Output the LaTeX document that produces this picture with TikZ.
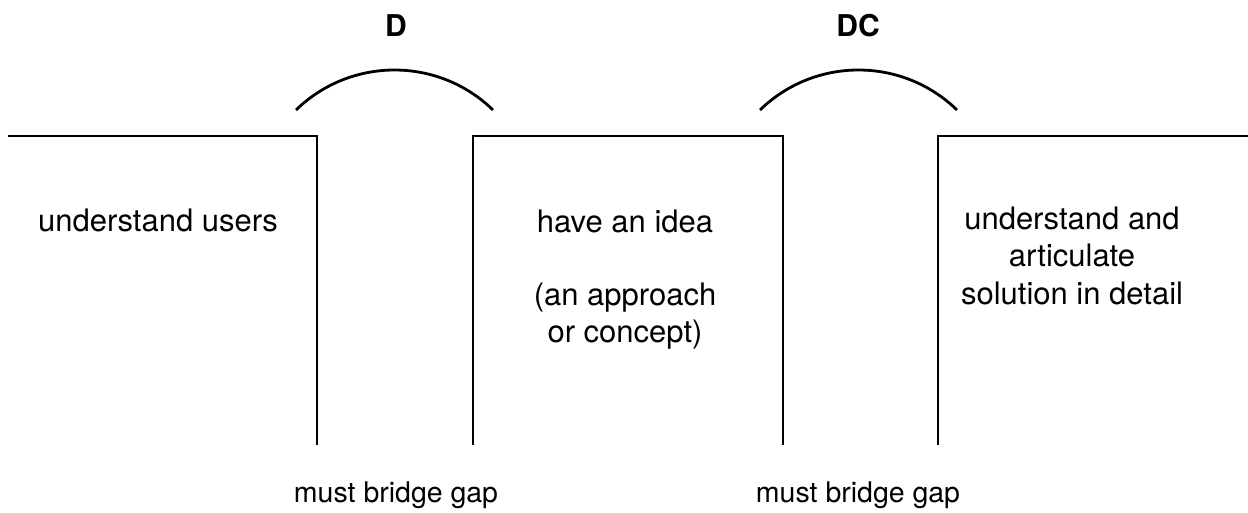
\documentclass[tikz,border=0pt]{standalone}
\usepackage{fontspec}
\setmainfont{TeX Gyre Heros}
\usetikzlibrary{positioning,calc}

\begin{document}
\begin{tikzpicture}[x=1pt,y=1pt,every node/.style={font=\fontsize{31}{37}\selectfont,align=center,inner sep=0pt},cliff/.style={line width=2.8pt},bridge/.style={line width=2.8pt},gaplabel/.style={font=\fontsize{28.5}{34}\selectfont}]
\useasboundingbox (0,0) rectangle (1248,-513);
% the three cliffs
\draw[cliff] (8,-136) -- (317,-136) -- (317,-445);
\draw[cliff] (473,-445) -- (473,-136) -- (783,-136) -- (783,-445);
\draw[cliff] (938,-445) -- (938,-136) -- (1248,-136);
% the bridges
\draw[bridge] (296,-110) arc[start angle=134.2,end angle=45.8,radius=141.3];
\draw[bridge] (760,-110) arc[start angle=134.2,end angle=45.8,radius=141.3];
\node[font=\fontsize{30}{34.5}\selectfont\bfseries,anchor=base] (d) at (396,-37) {D};
\node[font=\fontsize{30}{34.5}\selectfont\bfseries,anchor=base] (dc) at (858,-37) {DC};
% the texts (base = last line)
\node[anchor=base] (users) at (158,-232) {understand users};
\node[anchor=base] (idea) at (625,-342) {have an idea\\[36pt] (an approach\\ or concept)};
\node[anchor=base] (detail) at (1072,-304) {understand and\\ articulate\\ solution in detail};
\node[gaplabel,anchor=base] (gap1) at (396,-502) {must bridge gap};
\node[gaplabel,anchor=base] (gap2) at (858,-502) {must bridge gap};
\end{tikzpicture}
\end{document}
